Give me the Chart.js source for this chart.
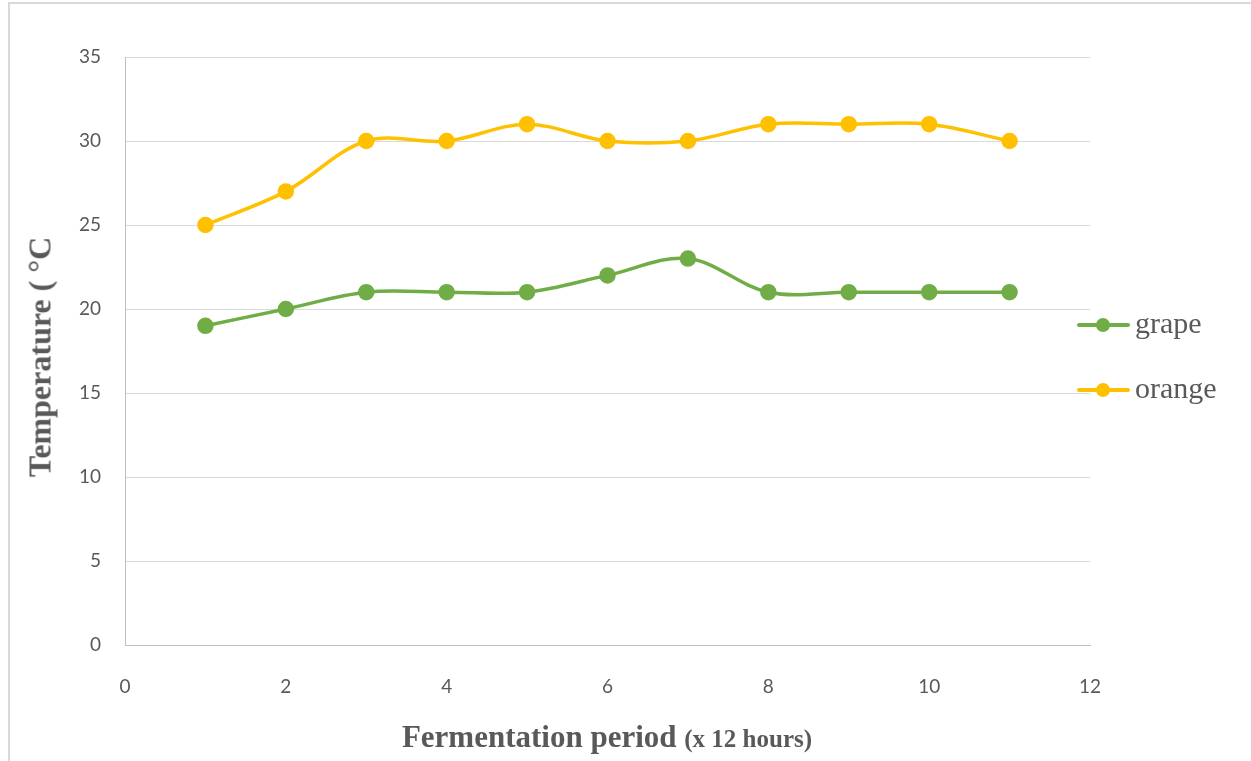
<!DOCTYPE html>
<html>
<head>
<meta charset="utf-8">
<script src="https://cdn.jsdelivr.net/npm/chart.js@4"></script>
<style>
  html, body { margin: 0; padding: 0; background: #fff; }
  #wrap { position: relative; width: 1251px; height: 761px; overflow: hidden; }
  #frame { position: absolute; left: 8px; top: 2px; right: -10px; bottom: -10px;
           border-left: 2px solid #d9d9d9; border-top: 2px solid #d9d9d9; }
  canvas { position: absolute; left: 0; top: 0; }
  .title { position: absolute; font-family: "Liberation Serif", serif; font-weight: bold; color: #595959; white-space: nowrap; }
  #ytitle { left: 40px; top: 357px; font-size: 32px; transform: translate(-50%, -50%) rotate(-90deg); }
  #xtitle { left: 607px; top: 737px; font-size: 31px; transform: translate(-50%, -50%); }
  #xtitle small { font-size: 25px; }
  .legend-item { position: absolute; left: 1077px; height: 20px; }
  .legend-item .line { position: absolute; left: 0; top: 8px; width: 53px; height: 4px; border-radius: 2px; }
  .legend-item .dot { position: absolute; left: 19px; top: 3px; width: 14px; height: 14px; border-radius: 50%; }
  .legend-item .label { position: absolute; left: 58px; top: -9px; font-family: "Liberation Serif", serif; font-size: 30px; color: #595959; white-space: nowrap; }
</style>
</head>
<body>
<div id="wrap">
  <div id="frame"></div>
  <canvas id="chart" width="1251" height="761"></canvas>
  <div id="ytitle" class="title">Temperature ( °C</div>
  <div id="xtitle" class="title">Fermentation period <small>(x 12 hours)</small></div>
  <div id="legend"></div>
</div>
<script>
const periods = [1, 2, 3, 4, 5, 6, 7, 8, 9, 10, 11];
const grapeTemps = [19, 20, 21, 21, 21, 22, 23, 21, 21, 21, 21];
const orangeTemps = [25, 27, 30, 30, 31, 30, 30, 31, 31, 31, 30];
const seriesNames = ['grape', 'orange'];
const seriesColors = ['#70ad47', '#ffc000'];

const toPoints = (vals) => vals.map((v, i) => ({ x: periods[i], y: v }));

function buildLegend() {
  const legend = document.getElementById('legend');
  const tops = [315, 380];
  legend.innerHTML = seriesNames.map((name, i) => `
    <div class="legend-item" style="top:${tops[i]}px">
      <div class="line" style="background:${seriesColors[i]}"></div>
      <div class="dot" style="background:${seriesColors[i]}"></div>
      <div class="label">${name}</div>
    </div>`).join('');
}

const tickFont = { family: 'Lato, "Liberation Sans", sans-serif', size: 19 };

new Chart(document.getElementById('chart'), {
  type: 'line',
  data: {
    datasets: [grapeTemps, orangeTemps].map((vals, i) => ({
      label: seriesNames[i],
      data: toPoints(vals),
      borderColor: seriesColors[i],
      backgroundColor: seriesColors[i],
      borderWidth: 3.5,
      pointRadius: 6.5,
      pointHoverRadius: 6.5,
      tension: 0.35,
      fill: false,
    })),
  },
  options: {
    responsive: false,
    animation: false,
    layout: { padding: { left: 0, top: 57, right: 161, bottom: 0 } },
    plugins: {
      legend: { display: false },
      tooltip: { enabled: false },
    },
    scales: {
      x: {
        type: 'linear',
        min: 0,
        max: 12,
        ticks: { stepSize: 2, color: '#595959', font: tickFont, padding: 30 },
        grid: { display: false, drawTicks: false },
        border: { display: true, color: '#bfbfbf', width: 1 },
        afterFit: (s) => { s.height = 116; },
      },
      y: {
        min: 0,
        max: 35,
        ticks: { stepSize: 5, color: '#595959', font: tickFont, padding: 24 },
        grid: { color: '#d9d9d9', lineWidth: 1, drawTicks: false },
        border: { display: true, color: '#bfbfbf', width: 1 },
        afterFit: (s) => { s.width = 125; },
      },
    },
  },
});

buildLegend();
</script>
</body>
</html>
